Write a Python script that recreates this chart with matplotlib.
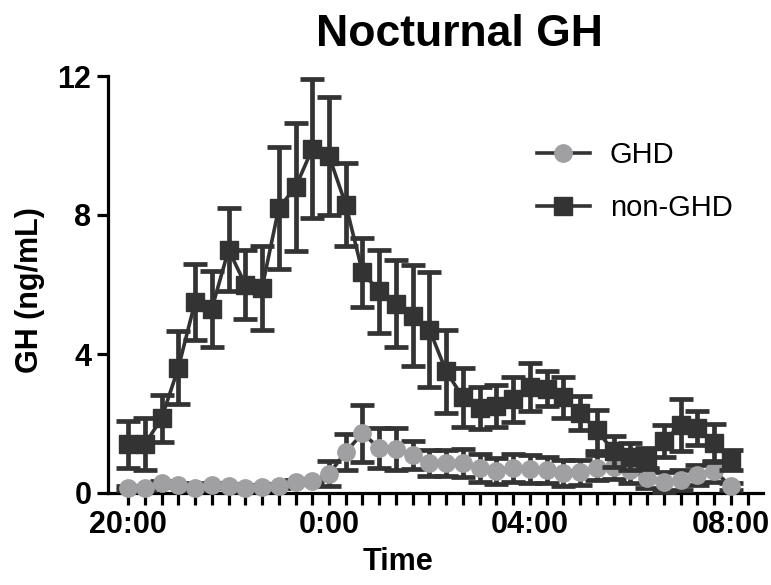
import numpy as np
import matplotlib
matplotlib.use("Agg")
import matplotlib.pyplot as plt
from matplotlib.lines import Line2D

plt.rcParams['font.family'] = ['Liberation Sans', 'DejaVu Sans']

# samples every 20 min from 20:00 to 08:00 (hours after 20:00)
hours = np.arange(37) / 3.0

ghd_mean = [0.14, 0.14, 0.29, 0.23, 0.14, 0.23, 0.20, 0.14, 0.17, 0.20,
            0.32, 0.34, 0.55, 1.18, 1.72, 1.29, 1.26, 1.09, 0.86, 0.86,
            0.86, 0.72, 0.63, 0.72, 0.69, 0.66, 0.57, 0.60, 0.72, 0.75,
            0.66, 0.43, 0.32, 0.37, 0.52, 0.63, 0.20]
ghd_sem = [0.05, 0.05, 0.05, 0.05, 0.05, 0.05, 0.05, 0.05, 0.05, 0.05,
           0.05, 0.05, 0.36, 0.52, 0.82, 0.58, 0.60, 0.40, 0.38, 0.38,
           0.40, 0.40, 0.38, 0.40, 0.40, 0.38, 0.38, 0.36, 0.36, 0.36,
           0.36, 0.30, 0.28, 0.28, 0.30, 0.30, 0.10]

non_mean = [1.40, 1.40, 2.15, 3.60, 5.50, 5.30, 7.00, 6.00, 5.90, 8.20,
            8.80, 9.90, 9.70, 8.30, 6.35, 5.80, 5.45, 5.10, 4.70, 3.50,
            2.75, 2.45, 2.50, 2.70, 3.05, 3.00, 2.75, 2.30, 1.80, 1.20,
            1.05, 1.00, 1.50, 1.95, 1.87, 1.45, 0.95]
non_sem = [0.68, 0.75, 0.67, 1.05, 1.10, 1.10, 1.20, 1.00, 1.20, 1.75,
           1.85, 2.00, 1.70, 1.20, 1.00, 1.20, 1.25, 1.45, 1.65, 1.20,
           0.85, 0.60, 0.60, 0.65, 0.68, 0.50, 0.60, 0.50, 0.60, 0.45,
           0.40, 0.30, 0.45, 0.75, 0.50, 0.55, 0.30]

tick_pos = [0, 4, 8, 12]
tick_labels = ['20:00', '0:00', '04:00', '08:00']

dark = '#333333'
grey = '#a0a0a3'

fig = plt.figure(figsize=(7.71, 5.85), dpi=100)
ax = fig.add_axes([108 / 771, 1 - 493 / 585, (763 - 108) / 771, (493 - 76) / 585])

# GHD: grey circles, dark line and error bars
ax.errorbar(hours, ghd_mean, yerr=ghd_sem, color=dark, lw=2.6,
            ecolor=dark, elinewidth=3.4, capsize=8.5, capthick=3.4,
            marker='o', ms=12.5, mfc=grey, mec=grey,
            clip_on=False, zorder=3)
# non-GHD: dark squares
ax.errorbar(hours, non_mean, yerr=non_sem, color=dark, lw=2.6,
            ecolor=dark, elinewidth=3.4, capsize=8.5, capthick=3.4,
            marker='s', ms=12.5, mfc=dark, mec=dark,
            clip_on=False, zorder=4)

ax.set_xlim(-0.4, 12.64)
ax.set_ylim(0, 12)
ax.set_yticks([0, 4, 8, 12])
ax.set_xticks(tick_pos)
ax.set_xticklabels(tick_labels)
ax.set_xticks(np.arange(38) / 3.0, minor=True)

for side in ['top', 'right']:
    ax.spines[side].set_visible(False)
for side in ['left', 'bottom']:
    ax.spines[side].set_linewidth(2.3)
    ax.spines[side].set_color('black')

ax.tick_params(axis='both', which='major', width=2.3, length=8,
               labelsize=22, pad=4)
ax.tick_params(axis='x', which='both', width=2.3, length=8.5)
for lab in ax.get_xticklabels() + ax.get_yticklabels():
    lab.set_fontweight('bold')

handles = [
    Line2D([], [], color=dark, lw=2.6, marker='o', ms=12.5, mfc=grey, mec=grey),
    Line2D([], [], color=dark, lw=2.6, marker='s', ms=12.5, mfc=dark, mec=dark),
]
ax.legend(handles, ['GHD', 'non-GHD'], loc='upper left',
          bbox_to_anchor=(537 / 771, 1 - 141 / 585),
          bbox_transform=fig.transFigure, frameon=False, fontsize=21,
          handlelength=1.8, handletextpad=0.7, labelspacing=0.85,
          borderpad=0, borderaxespad=0)

fig.text(459 / 771, 1 - 34 / 585, 'Nocturnal GH', ha='center', va='center',
         fontsize=32, fontweight='bold')
fig.text(398 / 771, 1 - 562 / 585, 'Time', ha='center', va='center',
         fontsize=22, fontweight='bold')
fig.text(30 / 771, 1 - 290 / 585, 'GH (ng/mL)', ha='center', va='center',
         rotation=90, fontsize=22, fontweight='bold')

fig.savefig('out.png', dpi=100)
